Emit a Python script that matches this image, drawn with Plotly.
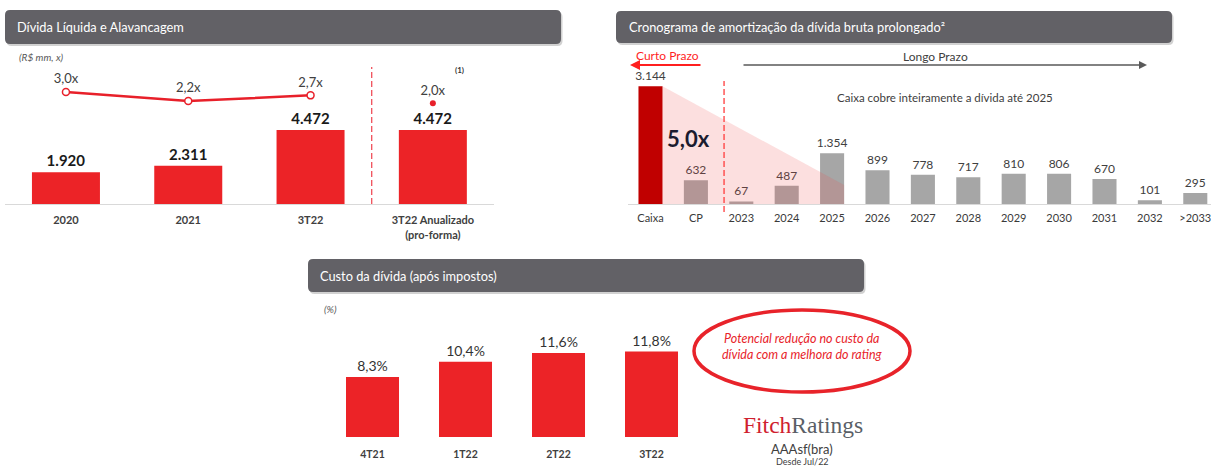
import plotly.graph_objects as go

W, H = 1211, 468


def px(x):
    return x / W


def py(y):
    return 1 - y / H


FONT = "Lato, 'Open Sans', sans-serif"
DARK = "#404040"
RED = "#EC2327"
LINE_RED = "#E8202A"
CLEAR = "rgba(0,0,0,0)"

# ---------------- data ----------------
p1_categories = ["2020", "2021", "3T22", "3T22 Anualizado<br>(pro-forma)"]
p1_debt = [1920, 2311, 4472, 4472]
p1_leverage_cats = ["2020", "2021", "3T22"]
p1_leverage = [3.0, 2.2, 2.7]
p1_proforma_cat = ["3T22 Anualizado<br>(pro-forma)"]
p1_proforma_leverage = [2.0]

p2_categories = ["Caixa", "CP", "2023", "2024", "2025", "2026", "2027",
                 "2028", "2029", "2030", "2031", "2032", ">2033"]
p2_values = [3144, 632, 67, 487, 1354, 899, 778, 717, 810, 806, 670, 101, 295]

p3_categories = ["4T21", "1T22", "2T22", "3T22"]
p3_cost = [8.3, 10.4, 11.6, 11.8]


def thousands(v):
    return f"{v:,}".replace(",", ".")


def dec(v):
    return f"{v:.1f}".replace(".", ",")


fig = go.Figure()

# ---------------- panel 1 ----------------
fig.add_trace(go.Bar(
    x=p1_categories, y=p1_debt, xaxis="x", yaxis="y",
    marker=dict(color=RED, line=dict(width=0)), width=0.556,
    text=[thousands(v) for v in p1_debt], textposition="outside",
    constraintext="none",
    textfont=dict(size=15, color="#1a1a1a", family=FONT, weight="bold"),
    cliponaxis=False, hoverinfo="skip"))
fig.add_trace(go.Scatter(
    x=p1_leverage_cats, y=p1_leverage, xaxis="x", yaxis="y2",
    mode="lines+markers+text",
    line=dict(color=LINE_RED, width=2.5),
    marker=dict(size=7, color="white", line=dict(color=LINE_RED, width=1.5)),
    text=[dec(v) + "x" for v in p1_leverage], textposition="top center",
    textfont=dict(size=13, color=DARK, family=FONT),
    cliponaxis=False, hoverinfo="skip"))
fig.add_trace(go.Scatter(
    x=p1_proforma_cat, y=p1_proforma_leverage, xaxis="x", yaxis="y2",
    mode="markers+text",
    marker=dict(size=6, color=LINE_RED),
    text=[dec(v) + "x" for v in p1_proforma_leverage], textposition="top center",
    textfont=dict(size=13, color=DARK, family=FONT),
    cliponaxis=False, hoverinfo="skip"))

# ---------------- panel 2 ----------------
p2_colors = ["#C00000"] + ["#A6A6A6"] * (len(p2_categories) - 1)
fig.add_trace(go.Bar(
    x=p2_categories, y=p2_values, xaxis="x2", yaxis="y3",
    marker=dict(color=p2_colors, line=dict(width=0)), width=0.53,
    text=[thousands(v) for v in p2_values], textposition="outside",
    constraintext="none",
    textfont=dict(size=12, color=DARK, family=FONT),
    cliponaxis=False, hoverinfo="skip"))

# ---------------- panel 3 ----------------
fig.add_trace(go.Bar(
    x=p3_categories, y=p3_cost, xaxis="x3", yaxis="y4",
    marker=dict(color=RED, line=dict(width=0)), width=0.57,
    text=[dec(v) + "%" for v in p3_cost], textposition="outside",
    constraintext="none",
    textfont=dict(size=14, color="#333333", family=FONT),
    cliponaxis=False, hoverinfo="skip"))

fig.update_layout(
    width=W, height=H,
    margin=dict(l=0, r=0, t=0, b=0),
    paper_bgcolor="white", plot_bgcolor="white",
    showlegend=False, bargap=0.4,
    font=dict(family=FONT, color=DARK),
    xaxis=dict(domain=[px(4.8), px(494)], anchor="y", type="category",
               showline=True, linecolor="#D9D9D9", linewidth=1,
               showgrid=False, zeroline=False,
               ticks="outside", ticklen=6, tickcolor=CLEAR,
               tickfont=dict(size=11, color=DARK, family=FONT, weight="bold"),
               fixedrange=True),
    yaxis=dict(domain=[py(204), py(60)], anchor="x", range=[0, 8702],
               visible=False, fixedrange=True),
    yaxis2=dict(overlaying="y", anchor="x", range=[-6.956, 5.844],
                visible=False, fixedrange=True),
    xaxis2=dict(domain=[px(627.8), 1.0], anchor="y3", type="category",
                range=[-0.5, 12.346],
                showline=True, linecolor="#D9D9D9", linewidth=1,
                showgrid=False, zeroline=False,
                ticks="outside", ticklen=4, tickcolor=CLEAR,
                tickfont=dict(size=11, color="#3a3a3a", family=FONT),
                fixedrange=True),
    yaxis3=dict(domain=[py(204), py(60)], anchor="x2", range=[0, 3845],
                visible=False, fixedrange=True),
    xaxis3=dict(domain=[px(326), px(698)], anchor="y4", type="category",
                showline=False, showgrid=False, zeroline=False,
                ticks="outside", ticklen=7, tickcolor=CLEAR,
                tickfont=dict(size=10.5, color=DARK, family=FONT, weight="bold"),
                fixedrange=True),
    yaxis4=dict(domain=[py(437), py(300)], anchor="x3", range=[0, 18.92],
                visible=False, fixedrange=True),
)

shapes = []


def header(x0, y0, x1, y1, r=5):
    rx, ry = r / W, r / H
    X0, X1, Y0, Y1 = px(x0), px(x1), py(y1), py(y0)
    path = (f"M {X0+rx},{Y1} L {X1-rx},{Y1} Q {X1},{Y1} {X1},{Y1-ry} "
            f"L {X1},{Y0+ry} Q {X1},{Y0} {X1-rx},{Y0} "
            f"L {X0+rx},{Y0} Q {X0},{Y0} {X0},{Y0+ry} "
            f"L {X0},{Y1-ry} Q {X0},{Y1} {X0+rx},{Y1} Z")
    return path


for (x0, y0, x1, y1) in [(5, 10, 561, 44), (616, 11, 1172, 43), (308, 259, 864, 292)]:
    shapes.append(dict(type="path", xref="paper", yref="paper",
                       path=header(x0 + 1.5, y0 + 2, x1 + 1.5, y1 + 2),
                       fillcolor="rgba(0,0,0,0.18)", line=dict(width=0), layer="below"))
    shapes.append(dict(type="path", xref="paper", yref="paper",
                       path=header(x0, y0, x1, y1),
                       fillcolor="#626166", line=dict(width=0), layer="below"))

# panel 1 dashed separator
shapes.append(dict(type="line", xref="x", yref="paper", x0=2.5, x1=2.5,
                   y0=py(204), y1=py(67),
                   line=dict(color="#F0505A", width=1.3, dash="6px,3px")))
# panel 2 coverage triangle
shapes.append(dict(type="path", xref="x2", yref="y3",
                   path="M 0.265,3144 L 4.265,507 L 4.265,0 L 0.265,0 Z",
                   fillcolor="rgba(240,80,80,0.18)", line=dict(width=0),
                   layer="above"))
# panel 2 dashed separator
shapes.append(dict(type="line", xref="x2", yref="paper", x0=1.62, x1=1.62,
                   y0=py(212), y1=py(81),
                   line=dict(color="#FF3B3B", width=1.3, dash="6px,3px")))
# ellipse
shapes.append(dict(type="circle", xref="paper", yref="paper",
                   x0=px(694), x1=px(910), y0=py(392), y1=py(310),
                   line=dict(color="#E8232A", width=3.5)))

ann = []


def text(x, y, s, size, color=DARK, xanchor="center", **kw):
    d = dict(xref="paper", yref="paper", x=px(x), y=py(y), text=s,
             showarrow=False, xanchor=xanchor, yanchor="middle",
             font=dict(size=size, color=color, family=kw.pop("family", FONT),
                       weight=kw.pop("weight", "normal")))
    d.update(kw)
    ann.append(d)


text(15, 27, "Dívida Líquida e Alavancagem", 12.8, "white", xanchor="left")
text(627, 27, "Cronograma de amortização da dívida bruta prolongado²", 12.8, "white", xanchor="left")
text(318, 276, "Custo da dívida (após impostos)", 12.8, "white", xanchor="left")

text(17, 57, "<i>(R$ mm, x)</i>", 10, "#595959", xanchor="left")
text(459, 70, "(1)", 8, "#333333", weight="bold")

text(667, 55, "Curto Prazo", 12, "#FF1F1F")
ann.append(dict(xref="paper", yref="paper", x=px(630), y=py(65), ax=72, ay=0,
                text="", showarrow=True, arrowhead=2, arrowsize=1, arrowwidth=2,
                arrowcolor="#FF1F1F"))
text(935, 56, "Longo Prazo", 12, DARK)
ann.append(dict(xref="paper", yref="paper", x=px(1147), y=py(65), ax=-405, ay=0,
                text="", showarrow=True, arrowhead=2, arrowsize=1, arrowwidth=1.6,
                arrowcolor="#595959"))
text(945, 97, "Caixa cobre inteiramente a dívida até 2025", 11.5, DARK)
text(688, 138, "5,0x", 22, "#1B1B2F", weight="bold")

text(322, 309, "<i>(%)</i>", 10, "#595959", xanchor="left")
text(802, 346, "<i>Potencial redução no custo da<br>dívida com a melhora do rating</i>",
     12.5, "#E8232A")
text(803, 425,
     "<span style='color:#D0202E'>Fitch</span><span style='color:#5A5F66'>Ratings</span>",
     23.5, family="'Liberation Serif', 'DejaVu Serif', serif")
text(802, 449, "AAAsf(bra)", 13, DARK)
text(802, 461.5, "Desde Jul/22", 9, DARK)

fig.update_layout(shapes=shapes, annotations=ann)

fig.write_html("out.html",
               config={"displayModeBar": False, "staticPlot": True},
               post_script="document.body.style.margin='0px';"
                           "document.body.style.overflow='hidden';")
